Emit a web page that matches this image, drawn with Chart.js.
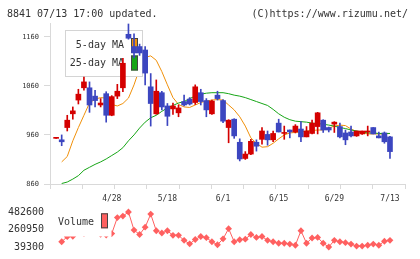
<!DOCTYPE html>
<html><head><meta charset="utf-8">
<script src="https://cdn.jsdelivr.net/npm/chart.js@4.4.1/dist/chart.umd.min.js"></script>
<style>
html,body{margin:0;padding:0;background:#fff;width:420px;height:259px;overflow:hidden;}
#wrap{position:relative;width:420px;height:259px;}
.hdr{position:absolute;top:7px;font:10px 'DejaVu Sans Mono',monospace;color:#333;white-space:nowrap;line-height:14px}
#c1{position:absolute;left:0;top:0;}
#c2{position:absolute;left:0;top:200px;}
</style></head>
<body><div id="wrap">
<canvas id="c1" width="420" height="205"></canvas>
<canvas id="c2" width="420" height="59"></canvas>
<div class="hdr" style="left:7px">8841 07/13 17:00 updated.</div>
<div class="hdr" style="right:12px;text-align:right">(C)https://www.rizumu.net/</div>
</div>
<script>
// ---- data ----
const dates = ['4/14','4/15','4/16','4/17','4/20','4/21','4/22','4/23','4/24','4/27','4/28','4/30',
 '5/1','5/7','5/8','5/11','5/12','5/13','5/14','5/15','5/18','5/19','5/20','5/21','5/22','5/25','5/26','5/27','5/28','5/29',
 '6/1','6/2','6/3','6/4','6/5','6/8','6/9','6/10','6/11','6/12','6/15','6/16','6/17','6/18','6/19','6/22','6/23','6/24','6/25','6/26',
 '6/29','6/30','7/1','7/2','7/3','7/6','7/7','7/8','7/9','7/10','7/13'];
const xTickLabels = ['4/28','5/18','6/1','6/15','6/29','7/13'];
const yTicks = [860, 960, 1060, 1160];
const volTicks = [39300, 260950, 482600];

const openP  = [953,950,975,1003,1031,1056,1056,1039,1021,1044,1000,1039,1056,1165,1140,1140,1133,1058,1003,1046,1019,1013,1005,1028,1033,1026,1046,1030,1003,1041,
 1030,975,992,945,912,921,945,951,961,950,984,963,970,966,972,956,963,977,990,975,982,977,964,966,958,962,966,975,958,964,956];
const highP  = [954,960,1000,1017,1053,1078,1068,1051,1034,1048,1040,1063,1116,1186,1166,1145,1140,1085,1072,1049,1024,1025,1021,1041,1036,1062,1053,1034,1031,1049,
 1032,991,993,952,926,951,950,975,968,968,992,978,970,981,987,977,990,1006,991,976,987,984,970,978,968,968,978,975,966,966,957];
const lowP   = [953,938,968,992,1023,1051,1006,1017,1017,986,999,1034,1048,1155,1117,1122,1062,978,1002,1011,979,1002,997,1019,1021,1022,1021,997,1002,1031,
 985,944,953,907,910,920,927,941,939,946,966,951,954,964,946,956,962,962,965,966,965,954,940,956,957,961,958,962,954,943,912];
const closeP = [954,946,990,1009,1043,1068,1021,1030,1025,1000,1038,1049,1106,1157,1127,1127,1086,1024,1049,1017,998,1019,1015,1021,1023,1058,1028,1011,1029,1034,
 988,990,958,911,921,947,937,968,950,963,966,964,966,978,956,968,984,1005,970,970,986,956,950,958,968,968,967,962,954,946,926];
const ma5  = [null,905,916,948,975,1000,1025,1033,1036,1035,1022,1019,1024,1035,1062,1095,1118,1121,1112,1089,1062,1036,1022,1017,1016,1021,1026,1029,1031,1032,
 1031,1021,1011,997,978,954,943,935,936,943,952,960,964,965,966,968,969,970,970,974,978,980,979,972,967,964,962,962,962,962,963];
const ma25 = [null,861,864,870,877,888,894,900,905,911,918,925,934,948,960,974,986,995,1000,1008,1015,1020,1025,1028,1034,1039,1043,1045,1046,1046,
 1046,1044,1041,1039,1036,1032,1028,1024,1020,1012,1003,996,991,988,987,986,984,983,982,980,978,975,973,970,968,966,964,964,963,963,963];
const volume = [null,105800,170000,175000,230000,210000,280000,250000,200000,190000,208900,411600,430500,482600,253200,197800,289800,456000,245400,216600,
 245400,186700,186700,123500,79200,134600,172300,156800,105800,68100,142400,272000,105800,131300,139000,197800,161200,172300,123500,105800,
 87000,87000,75900,61500,245400,87000,153400,161200,87000,39300,123500,105800,94700,75900,50400,50400,61500,75900,61500,112400,123500];

// ---- style ----
const RED='#d40000', BLUE='#3c46c0', ORANGE='#f0900a', GREEN='#16a516', VOLC='#ff6060', AXIS='#d9d9d9', TXT='#333';
const MONO="'DejaVu Sans Mono', monospace";
const X_MIN=-1.1, X_MAX=62.7;
const idx = dates.map((d,i)=>i);
const candleColor = idx.map(i => closeP[i] >= openP[i] ? RED : BLUE);

const mainLegend = {
  id:'mainLegend',
  afterDatasetDraw(chart, args){
    if (chart.data.datasets[args.index].label !== '25-day MA') return;
    const ctx = chart.ctx; ctx.save();
    ctx.fillStyle='#fff'; ctx.fillRect(65,30,78,47);
    ctx.strokeStyle='#d4d4d4'; ctx.lineWidth=1; ctx.strokeRect(65.5,30.5,77,46);
    ctx.font="10px "+MONO; ctx.textAlign='right'; ctx.textBaseline='middle';
    const items=[['5-day MA',ORANGE,45.5],['25-day MA',GREEN,63]];
    items.forEach(([t,c,y])=>{
      ctx.fillStyle=TXT; ctx.fillText(t,124,y);
      ctx.fillStyle=c; ctx.fillRect(131,y-7.5,7,15);
      ctx.strokeStyle='#444'; ctx.strokeRect(131.5,y-7,6,14);
    });
    ctx.restore();
  }
};

new Chart(document.getElementById('c1'), {
  data:{datasets:[
    {type:'bar', label:'body', data: idx.map(i=>({x:i, y:[openP[i], closeP[i]]})), backgroundColor:candleColor,
     barThickness:5, minBarLength:1, grouped:false, borderWidth:0, order:0},
    {type:'bar', label:'wick', data: idx.map(i=>({x:i, y:[lowP[i], highP[i]]})), backgroundColor:candleColor,
     barThickness:1, minBarLength:1, grouped:false, borderWidth:0, order:1},
    {type:'line', label:'25-day MA', data: idx.map(i=>({x:i, y:ma25[i]})), borderColor:GREEN, borderWidth:1,
     pointRadius:0, tension:0, order:2},
    {type:'line', label:'5-day MA', data: idx.map(i=>({x:i, y:ma5[i]})), borderColor:ORANGE, borderWidth:1,
     pointRadius:0, tension:0, order:3}
  ]},
  options:{
    responsive:false, animation:false, events:[],
    layout:{padding:{top:23, right:15, left:0, bottom:0}},
    plugins:{legend:{display:false}, tooltip:{enabled:false}},
    scales:{
      x:{type:'linear', min:X_MIN, max:X_MAX, offset:false,
        afterBuildTicks: s => {
          const t=[];
          for(let k=0;k<12;k++) t.push({value: X_MIN + k*(X_MAX-X_MIN)/11, mark:true});
          xTickLabels.forEach(l => t.push({value: dates.indexOf(l), lab:l}));
          t.sort((a,b)=>a.value-b.value);
          s.ticks = t;
        },
        ticks:{autoSkip:false, maxRotation:0, minRotation:0, padding:5, color:TXT,
          font:{family:MONO, size:8},
          callback:(v,i,ticks)=> ticks[i] && ticks[i].lab ? ticks[i].lab : ''},
        grid:{offset:false, drawOnChartArea:false, tickLength:5, color: c => (c.tick && c.tick.lab) ? 'rgba(0,0,0,0)' : AXIS},
        border:{color:AXIS},
        afterFit: s => { s.height = 21; }
      },
      y:{min:860, max:1188,
        afterBuildTicks: s => { s.ticks = yTicks.map(v=>({value:v})); },
        ticks:{padding:5, color:TXT, font:{family:MONO, size:7}, callback: v => String(v)},
        grid:{drawOnChartArea:false, tickLength:6, color:AXIS},
        border:{color:AXIS},
        afterFit: s => { s.width = 50; }
      }
    }
  },
  plugins:[mainLegend]
});

const volLegend = {
  id:'volLegend',
  afterDatasetsDraw(chart){
    const ctx = chart.ctx; ctx.save();
    ctx.fillStyle='#fff'; ctx.fillRect(56,6,55.5,30.5);
    ctx.font="10px "+MONO; ctx.fillStyle=TXT; ctx.textAlign='right'; ctx.textBaseline='middle';
    ctx.fillText(chart.data.datasets[0].label, 94, 22.7);
    ctx.fillStyle=VOLC; ctx.fillRect(101,13.3,7,15);
    ctx.strokeStyle='#444'; ctx.lineWidth=1; ctx.strokeRect(101.5,13.8,6,14);
    ctx.restore();
  }
};

new Chart(document.getElementById('c2'), {
  type:'line',
  data:{datasets:[{label:'Volume', data: idx.map(i=>({x:i, y:volume[i]})), borderColor:VOLC, backgroundColor:VOLC,
    borderWidth:1, pointStyle:'rectRot', pointRadius:3.4, pointBorderWidth:0, tension:0, clip:false}]},
  options:{
    responsive:false, animation:false, events:[],
    layout:{padding:{top:9.3, bottom:9.7, right:15, left:0}},
    plugins:{legend:{display:false}, tooltip:{enabled:false}},
    scales:{
      x:{type:'linear', min:X_MIN, max:X_MAX, display:false},
      y:{min:39300, max:482600,
        afterBuildTicks: s => { s.ticks = volTicks.map(v=>({value:v})); },
        ticks:{padding:6, color:TXT, font:{family:MONO, size:10}, callback: v => String(v)},
        grid:{display:false, drawTicks:false, tickLength:0}, border:{display:false},
        afterFit: s => { s.width = 50; }
      }
    }
  },
  plugins:[volLegend]
});
</script>
</body></html>
